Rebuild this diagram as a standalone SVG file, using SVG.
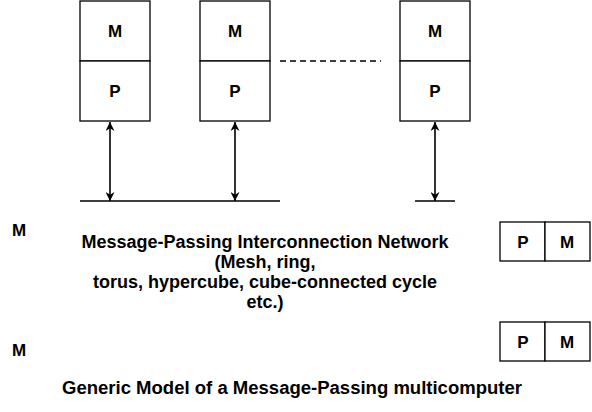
<svg xmlns="http://www.w3.org/2000/svg" width="592" height="412" viewBox="0 0 592 412">
<defs>
<style>
.box{fill:#fff;stroke:#000;stroke-width:1.3}
.lbl{font-family:"Liberation Sans",Arial,sans-serif;font-weight:bold;font-size:17px;text-anchor:middle;fill:#000}
.txt{font-family:"Liberation Sans",Arial,sans-serif;font-weight:bold;font-size:18px;text-anchor:middle;fill:#000}
.ln{stroke:#000;stroke-width:1.6;fill:none}
</style>
<marker id="ah" viewBox="0 0 10 10" refX="10" refY="5" markerWidth="9" markerHeight="9" orient="auto-start-reverse" markerUnits="userSpaceOnUse">
<path d="M0,0 L10,5 L0,10 L3,5 Z" fill="#000"/>
</marker>
</defs>
<rect width="592" height="412" fill="#fff"/>
<g id="pm1">
<rect class="box" x="80" y="1" width="70" height="60"/>
<rect class="box" x="80" y="61" width="70" height="60"/>
<text class="lbl" x="115" y="37">M</text>
<text class="lbl" x="115" y="97">P</text>
</g>
<g id="pm2">
<rect class="box" x="200" y="1" width="70" height="60"/>
<rect class="box" x="200" y="61" width="70" height="60"/>
<text class="lbl" x="235" y="37">M</text>
<text class="lbl" x="235" y="97">P</text>
</g>
<g id="pm3">
<rect class="box" x="400" y="1" width="70" height="60"/>
<rect class="box" x="400" y="61" width="70" height="60"/>
<text class="lbl" x="435" y="37">M</text>
<text class="lbl" x="435" y="97">P</text>
</g>
<g id="bus1"><line class="ln" x1="80" y1="201" x2="280" y2="201"/></g>
<g id="bus2"><line class="ln" x1="415" y1="201" x2="455" y2="201"/></g>
<g id="connectors">
<line class="ln" x1="110" y1="122" x2="110" y2="201" marker-start="url(#ah)" marker-end="url(#ah)"/>
<line class="ln" x1="235" y1="122" x2="235" y2="201" marker-start="url(#ah)" marker-end="url(#ah)"/>
<line class="ln" x1="435" y1="122" x2="435" y2="201" marker-start="url(#ah)" marker-end="url(#ah)"/>
<line class="ln" x1="280" y1="61" x2="381" y2="61" stroke-dasharray="6,4"/>
</g>
<g id="m-left1"><text class="lbl" x="19" y="236">M</text></g>
<g id="m-left2"><text class="lbl" x="19" y="356">M</text></g>
<g id="network">
<text class="txt" x="265" y="248">Message-Passing Interconnection Network</text>
<text class="txt" x="265" y="268">(Mesh, ring,</text>
<text class="txt" x="265" y="288">torus, hypercube, cube-connected cycle</text>
<text class="txt" x="265" y="308">etc.)</text>
</g>
<g id="pmh1">
<rect class="box" x="500" y="222" width="45" height="39"/>
<rect class="box" x="545" y="222" width="45" height="39"/>
<text class="lbl" x="523" y="248">P</text>
<text class="lbl" x="567" y="248">M</text>
</g>
<g id="pmh2">
<rect class="box" x="500" y="322" width="45" height="39"/>
<rect class="box" x="545" y="322" width="45" height="39"/>
<text class="lbl" x="523" y="348">P</text>
<text class="lbl" x="567" y="348">M</text>
</g>
<g id="title"><text class="txt" x="292" y="394" textLength="460" lengthAdjust="spacingAndGlyphs">Generic Model of a Message-Passing multicomputer</text></g>
</svg>
